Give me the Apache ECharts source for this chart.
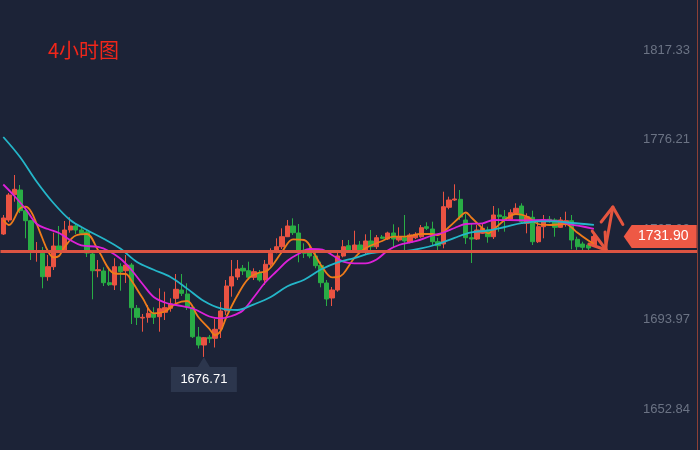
<!DOCTYPE html>
<html><head><meta charset="utf-8">
<script src="https://cdn.jsdelivr.net/npm/echarts@6/dist/echarts.min.js"></script>
<style>html,body{margin:0;padding:0;background:#1c2337;}#c{width:700px;height:450px;}</style>
</head><body><div id="c"></div>
<script>
const slotCount = 125;
const categories = Array.from({length: slotCount}, (_, i) => String(i + 1));
// [open, close, lowest, highest]
const candles = [
[1733.02,1740.35,1732.56,1741.73],[1739.44,1750.89,1738.52,1751.81],[1751.03,1753.50,1747.82,1760.05],[1753.18,1743.70,1742.64,1755.47],
[1743.70,1739.12,1731.05,1745.53],[1739.12,1725.37,1721.11,1739.44],[1725.00,1725.46,1720.33,1729.36],[1724.18,1713.46,1708.14,1727.07],
[1713.46,1718.04,1711.62,1723.40],[1718.04,1727.52,1716.53,1733.62],[1727.52,1725.69,1724.91,1736.69],[1725.37,1734.85,1724.45,1738.98],
[1734.85,1736.69,1733.62,1740.67],[1736.69,1734.85,1733.02,1737.93],[1734.85,1733.34,1732.56,1735.77],[1733.94,1724.32,1722.48,1734.85],
[1723.86,1716.20,1703.10,1725.69],[1716.20,1716.66,1713.18,1721.11],[1716.07,1710.71,1709.19,1717.76],[1710.71,1709.79,1709.20,1717.76],
[1709.65,1718.04,1707.36,1721.89],[1718.04,1715.75,1707.04,1719.60],[1716.20,1718.81,1710.57,1723.40],[1718.81,1699.25,1691.78,1719.73],
[1698.98,1694.85,1691.32,1700.49],[1694.53,1694.85,1688.26,1696.37],[1694.85,1696.68,1692.38,1700.49],[1696.68,1694.85,1691.78,1699.44],
[1695.13,1698.79,1688.26,1708.14],[1697.14,1699.25,1693.62,1706.58],[1698.98,1700.95,1697.42,1703.56],[1703.56,1707.68,1701.27,1714.69],
[1707.36,1705.85,1704.61,1714.69],[1705.53,1699.44,1698.20,1710.43],[1699.44,1685.96,1685.37,1700.49],[1685.83,1682.16,1680.56,1690.41],
[1682.16,1685.51,1676.71,1685.83],[1685.69,1685.05,1683.08,1686.74],[1685.23,1689.35,1681.02,1694.07],[1689.49,1697.74,1685.37,1701.86],
[1697.74,1709.19,1695.91,1711.94],[1709.19,1713.46,1704.29,1721.11],[1713.32,1716.98,1711.94,1721.11],[1717.30,1716.07,1714.24,1718.81],
[1716.20,1713.18,1711.94,1720.33],[1713.18,1715.75,1711.94,1717.30],[1715.29,1711.94,1711.17,1716.53],[1711.94,1719.14,1709.65,1721.11],
[1719.14,1724.18,1718.04,1726.47],[1724.91,1727.20,1724.18,1731.05],[1727.20,1731.78,1726.15,1735.63],[1731.78,1736.69,1731.65,1739.44],
[1736.69,1733.62,1732.56,1740.21],[1733.48,1725.46,1720.05,1737.60],[1725.69,1724.18,1722.02,1728.76],[1725.37,1722.94,1721.89,1727.98],
[1722.94,1718.50,1717.30,1725.69],[1718.59,1710.71,1708.60,1720.33],[1710.57,1703.24,1700.03,1711.94],[1703.70,1707.36,1700.03,1708.73],
[1707.36,1722.94,1706.58,1725.69],[1722.94,1727.20,1722.34,1730.27],[1727.66,1725.69,1724.91,1730.27],[1725.37,1727.98,1724.45,1734.53],
[1727.98,1725.69,1724.32,1729.81],[1724.77,1729.81,1723.40,1732.88],[1729.81,1727.20,1725.69,1734.85],[1727.20,1731.32,1726.15,1732.56],
[1731.65,1731.05,1730.73,1732.56],[1730.73,1733.48,1730.27,1734.07],[1733.48,1730.73,1726.74,1737.47],[1730.27,1731.78,1729.49,1736.09],
[1731.32,1729.81,1725.23,1741.73],[1729.22,1732.56,1728.76,1733.34],[1731.32,1732.88,1730.73,1733.80],[1731.78,1735.91,1731.32,1737.15],
[1736.37,1735.63,1734.85,1738.38],[1735.31,1729.49,1727.98,1738.66],[1729.49,1727.66,1725.69,1731.32],[1728.44,1745.53,1726.47,1752.40],
[1745.26,1748.60,1744.34,1750.11],[1748.60,1749.06,1748.14,1755.79],[1748.92,1740.81,1739.44,1753.18],[1739.44,1731.32,1728.44,1742.19],
[1731.32,1730.73,1719.73,1737.93],[1730.73,1734.85,1730.27,1737.15],[1733.34,1735.63,1733.02,1737.93],[1734.85,1731.78,1729.03,1736.37],
[1731.78,1741.73,1730.73,1745.85],[1741.73,1740.95,1734.07,1744.80],[1740.95,1739.44,1734.07,1744.02],[1739.76,1742.78,1739.44,1744.34],
[1742.50,1744.80,1741.73,1747.09],[1745.85,1738.66,1737.93,1747.09],[1737.93,1740.95,1733.34,1742.50],[1740.67,1729.49,1727.98,1743.70],
[1729.49,1736.37,1728.90,1739.44],[1736.37,1739.44,1731.05,1741.73],[1739.76,1738.98,1738.20,1741.27],[1739.44,1736.09,1731.78,1740.21],
[1736.09,1739.44,1735.77,1740.81],[1737.60,1739.12,1736.37,1743.24],[1739.12,1730.27,1726.01,1741.73],[1730.59,1727.20,1725.69,1731.78],
[1728.44,1726.93,1724.91,1729.49],[1727.98,1726.61,1725.69,1728.90],[1727.98,1731.90,1727.07,1732.56]
];
// moving averages: [candle index, value]
const maFast = [[0,1739.44],[1,1737.15],[3,1744.80],[4,1745.53],[5,1743.24],[6,1737.60],[7,1731.19],[8,1725.23],[9,1722.34],[10,1722.94],[11,1727.07],[13,1732.33],[15,1733.02],[17,1725.69],[20,1714.92],[22,1714.69],[23,1711.67],[25,1703.70],[27,1696.69],[29,1697.51],[31,1701.17],[33,1702.32],[35,1694.99],[37,1689.49],[38,1686.74],[39,1688.57],[40,1694.76],[42,1704.84],[44,1712.63],[46,1715.38],[47,1715.75],[48,1717.67],[50,1724.77],[52,1730.55],[54,1730.27],[56,1723.17],[57,1718.81],[59,1713.18],[60,1713.32],[61,1714.69],[63,1722.02],[65,1726.47],[68,1729.81],[70,1731.78],[72,1731.78],[75,1733.02],[77,1733.02],[78,1732.56],[80,1736.23],[82,1740.95],[83,1742.87],[84,1740.58],[86,1735.54],[87,1733.34],[88,1735.08],[90,1739.44],[92,1742.19],[94,1741.04],[96,1737.60],[98,1737.15],[101,1737.60],[102,1736.00],[103,1733.71],[105,1730.04],[106,1728.44]];
const maMid = [[0,1755.70],[2,1750.43],[4,1744.48],[6,1737.60],[8,1735.31],[10,1733.48],[12,1730.27],[14,1727.84],[17,1727.07],[19,1725.14],[21,1721.80],[23,1716.53],[25,1710.11],[27,1704.15],[29,1701.64],[31,1700.49],[34,1698.89],[37,1695.22],[39,1694.39],[41,1695.45],[43,1697.97],[45,1704.15],[47,1710.80],[49,1715.84],[51,1720.74],[53,1723.95],[55,1726.15],[57,1726.01],[59,1723.40],[61,1720.37],[63,1719.60],[65,1719.60],[67,1721.34],[69,1725.46],[71,1727.98],[74,1729.72],[77,1732.33],[79,1733.71],[81,1735.77],[83,1737.60],[86,1737.92],[88,1739.44],[91,1739.34],[94,1739.30],[97,1739.44],[100,1738.61],[102,1737.37],[104,1736.46],[106,1735.40]];
const maSlow = [[0,1777.47],[3,1768.30],[6,1756.98],[9,1747.23],[12,1739.44],[15,1734.85],[18,1730.82],[21,1726.33],[24,1720.19],[27,1716.62],[30,1713.32],[33,1708.00],[36,1702.32],[39,1698.93],[42,1698.20],[45,1700.81],[48,1704.15],[51,1709.06],[54,1712.08],[57,1716.75],[60,1720.05],[63,1722.02],[66,1724.22],[69,1724.91],[72,1725.14],[75,1726.38],[78,1728.44],[81,1731.28],[84,1733.76],[87,1734.63],[90,1736.23],[93,1737.97],[96,1738.84],[99,1738.84],[102,1738.06],[106,1737.24]];
const yTicks = [1652.84, 1693.97, 1735.09, 1776.21, 1817.33];
const supportLevel = 1724.9;
const lastPrice = 1731.90;
// hand-drawn arrows: [slot position, price]
const arrowStrokes = [
  [[108.0,1725.69],[109.4,1745.39]],
  [[107.3,1738.52],[109.4,1745.39],[111.2,1737.38]],
  [[105.7,1734.39],[108.2,1725.69]],
  [[108.0,1733.94],[108.2,1725.69],[105.1,1728.44]]
];

const UP = '#ea5342', DOWN = '#29ad45', ARROW = '#e5553f';
const chart = echarts.init(document.getElementById('c'));
chart.setOption({
  backgroundColor: '#1c2337',
  animation: false,
  title: {text: '4小时图', left: 48, top: 40, padding: 0,
    textStyle: {color: '#f2261a', fontSize: 20, fontWeight: 'normal', fontFamily: 'Noto Sans CJK SC'}},
  grid: {left: 0.5, right: 3, top: 0, bottom: 0, outerBoundsMode: 'none'},
  xAxis: [
    {type: 'category', data: categories, boundaryGap: true, show: false},
    {type: 'value', min: -0.5, max: slotCount - 0.5, show: false}
  ],
  yAxis: {
    type: 'value', position: 'right', min: 1634.05, max: 1840.24, scale: true,
    axisLine: {show: true, onZero: false, lineStyle: {color: '#8c4036', width: 1}},
    axisTick: {show: false}, splitLine: {show: false},
    axisLabel: {inside: true, margin: 7, color: '#6b7384', fontSize: 13, fontFamily: 'Liberation Sans',
      customValues: yTicks, formatter: v => Number(v).toFixed(2)}
  },
  series: [
    {type: 'candlestick', data: candles, barWidth: 4.8, z: 2,
      itemStyle: {color: UP, color0: DOWN, borderColor: UP, borderColor0: DOWN, borderWidth: 1},
      markPoint: {
        symbol: 'path://M0,10 L27,10 L33,0 L39,10 L66,10 L66,35 L0,35 Z',
        symbolSize: [66, 35], symbolOffset: [0, '50%'],
        itemStyle: {color: '#2c364d'},
        label: {show: true, color: '#ffffff', fontSize: 13, fontFamily: 'Liberation Sans', offset: [0, 5],
          formatter: p => Number(p.value).toFixed(2)},
        data: [{type: 'min', valueDim: 'lowest'}]
      }
    },
    {type: 'line', data: maFast, smooth: 0.35, showSymbol: false, connectNulls: true, z: 3,
      lineStyle: {color: '#ee7c1a', width: 1.8}},
    {type: 'line', data: maMid, smooth: 0.35, showSymbol: false, connectNulls: true, z: 3,
      lineStyle: {color: '#dc20d8', width: 1.8}},
    {type: 'line', data: maSlow, smooth: 0.35, showSymbol: false, connectNulls: true, z: 4,
      lineStyle: {color: '#24b6c9', width: 1.8},
      markLine: {silent: true, symbol: 'none', label: {show: false},
        lineStyle: {color: '#dc5442', width: 3, type: 'solid'},
        data: [{yAxis: supportLevel}]},
      markPoint: {
        symbol: 'path://M0,11.5 L8,0 L73,0 L73,23 L8,23 Z', symbolSize: [73, 23], symbolOffset: [-34, 0],
        itemStyle: {color: '#ee5945'},
        label: {show: true, color: '#ffffff', fontSize: 14, fontFamily: 'Liberation Sans', offset: [3, 0],
          formatter: p => Number(p.value).toFixed(2)},
        data: [{coord: [slotCount - 1, lastPrice], value: lastPrice}]
      }
    },
    ...arrowStrokes.map(s => ({type: 'line', xAxisIndex: 1, data: s, showSymbol: false, z: 6,
      lineStyle: {color: ARROW, width: 3, cap: 'round', join: 'round'}}))
  ]
});
</script></body></html>
